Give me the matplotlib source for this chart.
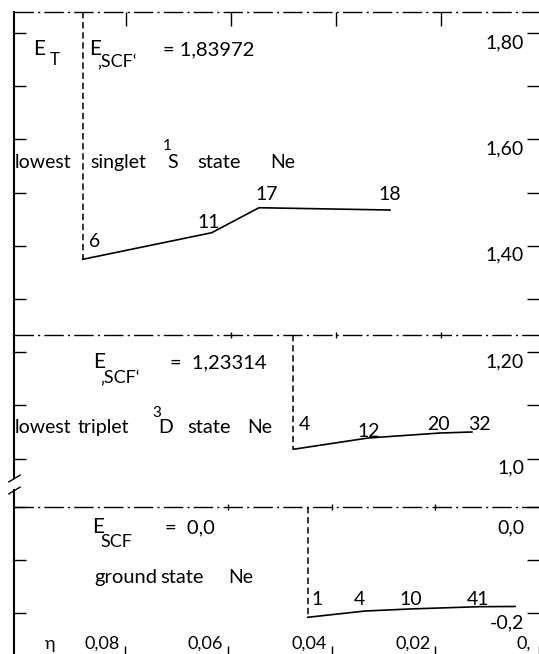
import numpy as np
import matplotlib.pyplot as plt

plt.rcParams['font.family'] = ['Lato', 'DejaVu Sans']
plt.rcParams['font.size'] = 14

# x axis (eta)
eta_ticks = [0.08, 0.06, 0.04, 0.02, 0.0]
eta_labels = ['0,08', '0,06', '0,04', '0,02', '0,']

# lowest singlet 1S state
singlet_scf = 1.83972
singlet_eta = [0.08825, 0.06368, 0.05467, 0.02971]
singlet_E = [1.3746, 1.4246, 1.4716, 1.4673]
singlet_n = ['6', '11', '17', '18']

# lowest triplet 3D state
triplet_scf = 1.23314
triplet_eta = [0.04813, 0.03390, 0.02019, 0.01410]
triplet_E = [1.0175, 1.0387, 1.0481, 1.0500]
triplet_n = ['4', '12', '20', '32']

# ground state
ground_scf = 0.0
ground_eta = [0.04463, 0.03352, 0.02495, 0.01162, 0.00463]
ground_E = [-0.2073, -0.1955, -0.1917, -0.1874, -0.1870]
ground_n = ['1', '4', '10', '41', '']

# energy ticks
upper_ticks = [1.8, 1.7, 1.6, 1.5, 1.4, 1.3, 1.2, 1.1, 1.0]
upper_labeled = [1.8, 1.6, 1.4, 1.2, 1.0]
upper_labels = ['1,80', '1,60', '1,40', '1,20', '1,0']
lower_ticks = [0.0, -0.1, -0.2]
lower_labeled = [0.0, -0.2]
lower_labels = ['0,0', '-0,2']

# label offsets in pixels (layout only)
singlet_off = [(6, 12), (-14, 5), (-4, 8), (-12, 10)]
triplet_off = [(5, 19), (-11, 1), (-13, 3), (-4, 2)]
ground_off = [(4, 12), (-12, 6), (-10, 4), (-12, 2), (0, 0)]

dashdot = (0, (14, 3, 1.5, 3))
dashed = (0, (4.2, 2.4))

fig = plt.figure(figsize=(5.39, 6.54), dpi=100)
ax1 = fig.add_axes([14 / 539, 176 / 654, 525 / 539, 466.1 / 654])
ax2 = fig.add_axes([14 / 539, 0, 525 / 539, 164 / 654])

ax1.set_ylim(0.96353, 1.83972)
ax2.set_ylim(-0.27632, 0.03195)
for ax in (ax1, ax2):
    ax.set_xlim(0.101333, 0.001333)
    ax.set_facecolor('none')
    for s in ('top', 'right', 'bottom'):
        ax.spines[s].set_visible(False)
    ax.spines['left'].set_linewidth(1.5)
    ax.tick_params(axis='y', direction='in', left=True, right=True,
                   labelleft=False, labelright=False, length=8.5, width=1)

ax1.set_yticks(upper_ticks)
ax2.set_yticks(lower_ticks)

ax1.set_xticks(eta_ticks[:-1])
ax1.tick_params(axis='x', direction='in', top=True, bottom=False,
                labeltop=False, labelbottom=False, length=10, width=1)
ax2.set_xticks(eta_ticks)
ax2.tick_params(axis='x', direction='in', top=False, bottom=True,
                labelbottom=False, length=6, width=1)


def draw_state(ax, scf, eta, E, names, offs):
    ax.axhline(scf, color='k', lw=1, ls=dashdot, clip_on=False)
    ax.plot([eta[0], eta[0]], [scf, E[0]], color='k', lw=1.1, ls=dashed)
    ax.plot(eta, E, color='k', lw=1.2)
    for x, y, t, o in zip(eta, E, names, offs):
        if t:
            ax.annotate(t, (x, y), xytext=o, textcoords='offset pixels',
                        ha='left', va='baseline', fontsize=14)


draw_state(ax1, singlet_scf, singlet_eta, singlet_E, singlet_n, singlet_off)
draw_state(ax1, triplet_scf, triplet_eta, triplet_E, triplet_n, triplet_off)
draw_state(ax2, ground_scf, ground_eta, ground_E, ground_n, ground_off)

# small marks on the lower reference lines
ax1.plot(eta_ticks[1:4], [triplet_scf] * 3, ls='none', marker='|', ms=4,
         color='k', mew=1)
ax2.plot(eta_ticks[1:4], [ground_scf] * 3, ls='none', marker='|', ms=4,
         color='k', mew=1)

# right-hand energy labels
for ax, vals, labs in ((ax1, upper_labeled, upper_labels),
                       (ax2, lower_labeled, lower_labels)):
    for v, lab in zip(vals, labs):
        dy = -12 if lab == '0,0' else -1
        ax.annotate(lab, (1, v), xycoords=('axes fraction', 'data'),
                    xytext=(-15, dy), textcoords='offset pixels',
                    ha='right', va='top', fontsize=14)

# eta labels along the bottom
for v, lab in zip(eta_ticks, eta_labels):
    dx = -8 if v == 0 else -5
    ax2.annotate(lab, (v, 0), xycoords=('data', 'axes fraction'),
                 xytext=(dx, 2), textcoords='offset pixels',
                 ha='right', va='bottom', fontsize=13, annotation_clip=False)
ax2.annotate('η', (0.059, 0), xycoords='axes fraction', xytext=(0, 2),
             textcoords='offset pixels', ha='left', va='bottom', fontsize=13)

# panel texts
ax1.text(0.09771, 1.7586, 'E', fontsize=15)
ax1.text(0.09448, 1.7398, 'T', fontsize=12)
ax1.text(0.08705, 1.7586, 'E', fontsize=15)
ax1.text(0.08552, 1.7361, '‚SCF‘', fontsize=13)
ax1.text(0.07295, 1.7586, '= 1,83972', fontsize=14.5)
ax1.text(0.10114, 1.5462, 'lowest', fontsize=14)
ax1.text(0.08686, 1.5462, 'singlet', fontsize=14)
ax1.text(0.07295, 1.5801, '1', fontsize=11)
ax1.text(0.07219, 1.5462, 'S', fontsize=14)
ax1.text(0.06648, 1.5462, 'state', fontsize=14.5)
ax1.text(0.05257, 1.5462, 'Ne', fontsize=14)

ax1.text(0.08629, 1.1703, 'E', fontsize=15)
ax1.text(0.08495, 1.1421, '‚SCF‘', fontsize=13)
ax1.text(0.07162, 1.1703, '=  1,23314', fontsize=14.5)
ax1.text(0.10114, 1.0481, 'lowest', fontsize=14)
ax1.text(0.08914, 1.0481, 'triplet', fontsize=14)
ax1.text(0.07505, 1.0782, '3', fontsize=11)
ax1.text(0.07390, 1.0481, 'D', fontsize=14)
ax1.text(0.06838, 1.0481, 'state', fontsize=14.5)
ax1.text(0.05695, 1.0481, 'Ne', fontsize=14)

ax2.text(0.08629, -0.04887, 'E', fontsize=15)
ax2.text(0.08457, -0.07519, 'SCF', fontsize=13)
ax2.text(0.07219, -0.04887, '=  0,0', fontsize=14.5)
ax2.text(0.0859, -0.14286, 'ground', fontsize=14.5)
ax2.text(0.07314, -0.14286, 'state', fontsize=14.5)
ax2.text(0.0600, -0.14286, 'Ne', fontsize=14)

# axis break marks on the left spine
brk = dict(marker=[(-1, -0.6), (1, 0.6)], markersize=9, linestyle='none',
           color='k', mec='k', mew=1, clip_on=False)
ax1.plot([0], [0], transform=ax1.transAxes, **brk)
ax2.plot([0], [1], transform=ax2.transAxes, **brk)

fig.savefig('out.png', dpi=100)
